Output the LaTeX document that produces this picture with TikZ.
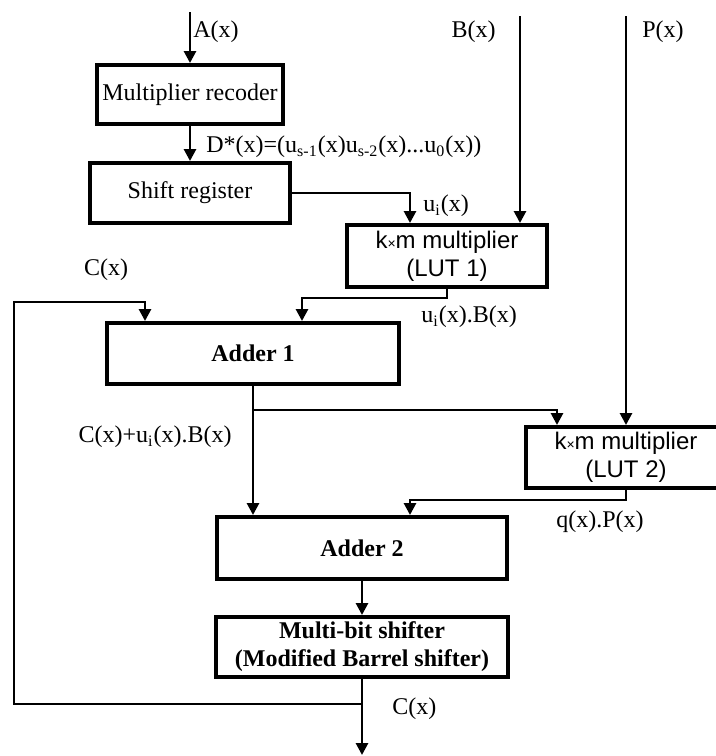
\documentclass[tikz,border=0pt]{standalone}
\usepackage{fontspec}
\setmainfont{Liberation Serif}
\newfontfamily\arialfont{Liberation Sans}
\usetikzlibrary{arrows.meta}
\tikzset{
  blk/.style={draw, line width=2pt, inner sep=2pt, align=center,
              font=\fontsize{12}{14}\selectfont},
  blkb/.style={blk, font=\fontsize{12}{14}\selectfont\bfseries},
  lut/.style={blk, font=\arialfont\fontsize{12}{14}\selectfont},
  arr/.style={-{Triangle[length=6pt,width=6pt]}, line width=1.4pt},
  lbl/.style={font=\fontsize{12}{14}\selectfont, inner sep=0pt},
}

\begin{document}
\begin{tikzpicture}[x=0.5pt,y=-0.5pt]
  \useasboundingbox (0,0) rectangle (716,756);
  % --- boxes ---
  \node[blk, minimum width=93pt, minimum height=29.5pt] (rec) at (190,94.5) {Multiplier recoder};
  \node[blk, minimum width=100pt, minimum height=30pt] (sreg) at (190,193) {Shift register};
  \node[lut, minimum width=100pt, minimum height=31pt] (lut1) at (447,256)
    {k{\scriptsize×}m multiplier\\(LUT 1)};
  \node[blkb, minimum width=146pt, minimum height=30.5pt] (add1) at (253,353.5) {Adder 1};
  \node[lut, minimum width=100pt, minimum height=30.5pt] (lut2) at (626,457.5)
    {k{\scriptsize×}m multiplier\\(LUT 2)};
  \node[blkb, minimum width=145pt, minimum height=31pt] (add2) at (362,548) {Adder 2};
  \node[blkb, minimum width=146pt, minimum height=30pt] (shf) at (362,647)
    {Multi-bit shifter\\(Modified Barrel shifter)};
  % --- inputs ---
  \coordinate (ain) at (190,12);
  \coordinate (bin) at (520,16);
  \coordinate (pin) at (626,16);
  \draw[arr] (ain) -- (rec.north);
  \draw[arr] (bin) -- (bin |- lut1.north);
  \draw[arr] (pin) -- (lut2.north);
  \node[lbl, anchor=west] (la) at (193,32) {A(x)};
  \node[lbl, anchor=east] (lb) at (496,32) {B(x)};
  \node[lbl, anchor=west] (lp) at (642,32) {P(x)};
  % --- recoder, shift register, LUT 1 ---
  \draw[arr] (rec.south) -- (sreg.north);
  \node[lbl, anchor=west] (ld) at (206,147)
    {D*(x)=(u\textsubscript{s-1}(x)u\textsubscript{s-2}(x)...u\textsubscript{0}(x))};
  \draw[arr] (sreg.east) -| ([xshift=-18.5pt]lut1.north);
  \node[lbl, anchor=west] (lu) at (423,206) {u\textsubscript{i}(x)};
  \draw[arr] (lut1.south) -- ++(0,9) -| ([xshift=24.5pt]add1.north);
  \node[lbl, anchor=west] (lub) at (421,317) {u\textsubscript{i}(x).B(x)};
  % --- adder 1 to adder 2 ---
  \coordinate (br) at ([yshift=-12pt]add1.south);
  \draw[arr] (add1.south) -- ([xshift=-54.5pt]add2.north);
  \draw[arr] (br) -| ([xshift=-34.5pt]lut2.north);
  \node[lbl, anchor=east] (lsum) at (232,437) {C(x)+u\textsubscript{i}(x).B(x)};
  \draw[arr] (lut2.south) -- ++(0,10) -| ([xshift=24pt]add2.north);
  \node[lbl, anchor=west] (lqp) at (556,522) {q(x).P(x)};
  % --- shifter and feedback ---
  \draw[arr] (add2.south) -- (shf.north);
  \coordinate (fb) at ([yshift=-12.5pt]shf.south);
  \coordinate (out) at (362,755);
  \coordinate (lc) at (14,302);
  \draw[arr] (shf.south) -- (out);
  \draw[arr] (fb) -| (lc) -| ([xshift=-54pt]add1.north);
  \node[lbl, anchor=west] (lco) at (392,709) {C(x)};
  \node[lbl] (lci) at (106,270) {C(x)};
\end{tikzpicture}
\end{document}
